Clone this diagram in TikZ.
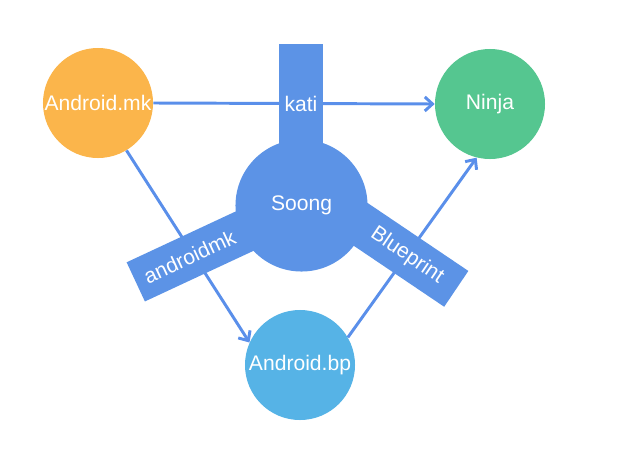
\documentclass[tikz,border=0pt]{standalone}
\usepackage{fontspec}
\setmainfont{Liberation Sans}
\usepackage{xcolor}
\usetikzlibrary{arrows.meta,calc}
\definecolor{mkorange}{HTML}{FBB54B}
\definecolor{ninjagreen}{HTML}{55C690}
\definecolor{bpblue}{HTML}{56B3E6}
\definecolor{soongblue}{HTML}{5C93E6}
\definecolor{linkblue}{HTML}{5A8FEA}

\begin{document}
\begin{tikzpicture}[x=0.025cm, y=-0.025cm,
    tool/.style={circle, inner sep=0pt, minimum size=2.75cm, text=white, font=\fontsize{15}{18}\selectfont},
    arm/.style={rectangle, fill=soongblue, inner sep=0pt, minimum width=4.5cm, minimum height=1.08cm},
    armlabel/.style={text=white, font=\fontsize{15}{18}\selectfont, inner sep=1pt},
    link/.style={-{Straight Barb[length=5.5pt,width=10pt]}, line width=2.1pt, draw=linkblue}
]
    \useasboundingbox (0,0) rectangle (631,461);
    \node[tool, fill=mkorange] (mk) at (98,103) {Android.mk};
    \node[tool, fill=ninjagreen] (ninja) at (490,104) {Ninja};
    \node[tool, fill=bpblue] (bp) at (300,365) {Android.bp};

    \draw[link] (mk.east) -- (ninja.west);
    \draw[link] (mk.-59) -- (bp.156);
    \draw[link] (bp.30) -- (ninja.-104);

    % Soong and its three arms
    \node[arm, rotate=90, anchor=east] (katiarm) at (301,44) {};
    \node[arm, rotate=205, anchor=east] (mkarm) at (135.5,282) {};
    \node[arm, rotate=-34, anchor=east] (bparm) at (456.5,289) {};
    \node[tool, fill=soongblue, minimum size=3.3cm] (soong) at (301.5,205.5) {Soong};

    \node[armlabel] (kati) at ($(katiarm.east)!0.33!(katiarm.west)$) {kati};
    \node[armlabel, rotate=25] (androidmk) at ($(mkarm.east)!0.33!(mkarm.west)$) {androidmk};
    \node[armlabel, rotate=-34] (blueprint) at ($(bparm.east)!0.33!(bparm.west)$) {Blueprint};
\end{tikzpicture}
\end{document}
